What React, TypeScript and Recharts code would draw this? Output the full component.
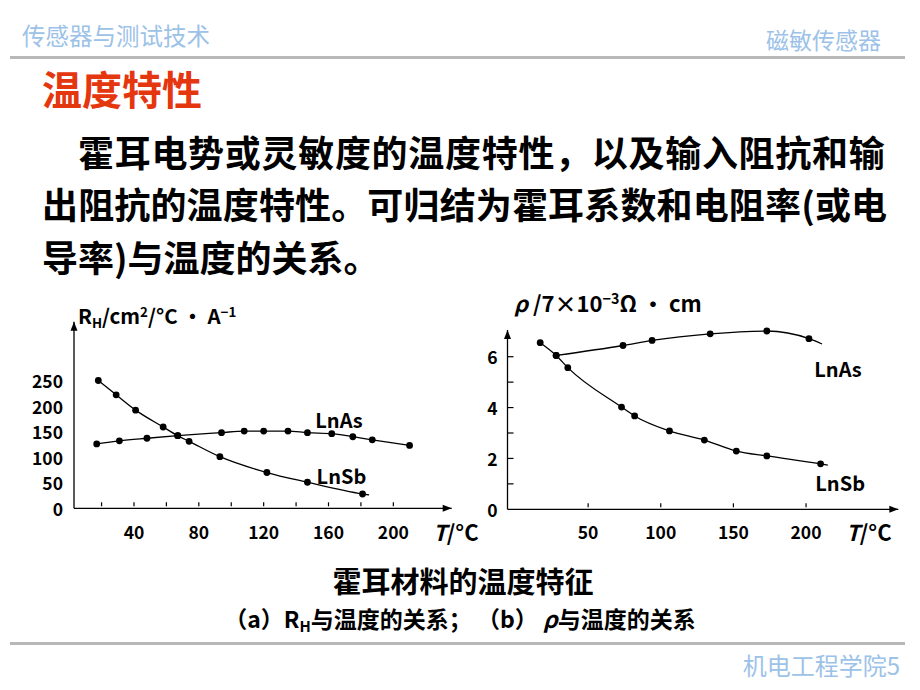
import React from 'react'
import { LineChart, Line, XAxis, YAxis, ReferenceDot } from 'recharts'

// (a) R_H vs T
const sbLeftT = [18, 29, 41, 58, 67, 74, 93, 122, 147, 181, 185]
const sbLeftR = [250, 222, 192, 159, 142, 131, 101, 70, 51, 28, 26]
const sbLeftDot = [1, 1, 1, 1, 1, 1, 1, 1, 1, 1, 0]
const asLeftT = [17, 31, 48, 67, 94, 108, 120, 135, 147, 162, 175, 187, 210]
const asLeftR = [126, 132, 137, 142, 148, 151, 151, 151, 148, 146, 140, 134, 123]
const asLeftDot = [1, 1, 1, 1, 1, 1, 1, 1, 1, 1, 1, 1, 1]

// (b) rho vs T
const sbRightT = [17, 28, 36, 73, 82, 106, 130, 152, 173, 210, 215]
const sbRightRho = [6.55, 6.05, 5.57, 4.02, 3.67, 3.08, 2.72, 2.29, 2.1, 1.79, 1.74]
const sbRightDot = [1, 1, 1, 1, 1, 1, 1, 1, 1, 1, 0]
const asRightT = [28, 74, 94, 134, 173, 202, 211]
const asRightRho = [6.05, 6.44, 6.64, 6.9, 7.01, 6.71, 6.5]
const asRightDot = [1, 1, 1, 1, 1, 1, 0]

const leftXMarks = [20, 40, 60, 80, 100, 120, 140, 160, 180, 200]
const leftXLabels = [40, 80, 120, 160, 200]
const leftYTicks = [0, 50, 100, 150, 200, 250]
const rightXTicks = [50, 100, 150, 200]
const rightYMarks = [0, 1, 2, 3, 4, 5, 6]
const rightYLabels = [0, 2, 4, 6]

const leftDomainX = [3, 236]
const leftDomainY = [0, 365]
const rightDomainX = [-5.5, 263.5]
const rightDomainY = [0, 7.05]

const zip = (t: number[], v: number[], d: number[]) => t.map((x, i) => ({ t: x, v: v[i], dot: d[i] }))

const cjk = '"Noto Sans CJK SC", "Liberation Sans", sans-serif'
const tickFont = { fontFamily: cjk, fontSize: 17.5, fontWeight: 700, fill: '#000' }
const nameFont = { fontFamily: cjk, fontSize: 20, fontWeight: 700, fill: '#000' }

const dotFn = (p: any) =>
  p.payload.dot ? (
    <circle key={p.index} cx={p.cx} cy={p.cy} r={3.4} fill="#000" />
  ) : (
    <g key={p.index} />
  )

const upArrow = (p: any) => (
  <path d={`M${p.cx},${p.cy} L${p.cx - 3.5},${p.cy + 9} L${p.cx + 3.5},${p.cy + 9} Z`} fill="#000" />
)
const rightArrow = (p: any) => (
  <path d={`M${p.cx},${p.cy} L${p.cx - 9},${p.cy - 3.5} L${p.cx - 9},${p.cy + 3.5} Z`} fill="#000" />
)
const seriesLabel = (txt: string) => (p: any) => (
  <text x={p.cx} y={p.cy} textAnchor="middle" dominantBaseline="central" {...nameFont}>
    {txt}
  </text>
)

const LeftXTick = (props: any) => {
  const { x, y, payload } = props
  return (
    <g>
      <line x1={x} x2={x} y1={y - 6} y2={y - 2} stroke="#000" strokeWidth={1.2} />
      {leftXLabels.includes(payload.value) && (
        <text x={x} y={y + 23} textAnchor="middle" dominantBaseline="central" {...tickFont}>
          {payload.value}
        </text>
      )}
    </g>
  )
}

const LeftYTick = (props: any) => {
  const { x, y, payload } = props
  return (
    <text x={x - 11} y={y} textAnchor="end" dominantBaseline="central" {...tickFont}>
      {payload.value}
    </text>
  )
}

const RightXTick = (props: any) => {
  const { x, y, payload } = props
  return (
    <g>
      <line x1={x} x2={x} y1={y - 6} y2={y - 2} stroke="#000" strokeWidth={1.2} />
      <text x={x} y={y + 22} textAnchor="middle" dominantBaseline="central" {...tickFont}>
        {payload.value}
      </text>
    </g>
  )
}

const RightYTick = (props: any) => {
  const { x, y, payload } = props
  return (
    <g>
      {payload.value !== 0 && <line x1={x} x2={x + 6} y1={y} y2={y} stroke="#000" strokeWidth={1.2} />}
      {rightYLabels.includes(payload.value) && (
        <text x={x - 10} y={y} textAnchor="end" dominantBaseline="central" {...tickFont}>
          {payload.value}
        </text>
      )}
    </g>
  )
}

const abs = (left: number, top: number, extra: React.CSSProperties = {}): React.CSSProperties => ({
  position: 'absolute',
  left,
  top,
  whiteSpace: 'nowrap',
  lineHeight: 1,
  ...extra,
})

const sup: React.CSSProperties = { fontSize: '0.65em', position: 'relative', top: '-0.55em' }
const sub: React.CSSProperties = { fontSize: '0.65em', position: 'relative', top: '0.3em' }

export default function App() {
  const lineProps = { type: 'monotone' as const, dataKey: 'v', stroke: '#000', strokeWidth: 1.3, isAnimationActive: false, dot: dotFn, activeDot: false as const }
  const body: React.CSSProperties = { fontSize: 36, fontWeight: 700, color: '#000' }
  return (
    <div style={{ position: 'absolute', left: 0, top: 0, width: 920, height: 690, background: '#fff', overflow: 'hidden', fontFamily: cjk }}>
      <div style={abs(22, 24, { fontSize: 23.5, color: '#9cc2e8' })}>传感器与测试技术</div>
      <div style={abs(0, 28, { width: 881, textAlign: 'right', fontSize: 23, color: '#9cc2e8' })}>磁敏传感器</div>
      <div style={{ position: 'absolute', left: 10, top: 56, width: 895, height: 3, background: '#b8b8b8' }} />
      <div style={abs(42, 68, { fontSize: 40, fontWeight: 700, color: '#e5370f' })}>温度特性</div>

      <div style={abs(78, 133, { ...body, letterSpacing: 0.7 })}>霍耳电势或灵敏度的温度特性，以及输入阻抗和输</div>
      <div style={abs(42, 185, { ...body, letterSpacing: 0.15 })}>出阻抗的温度特性。可归结为霍耳系数和电阻率(或电</div>
      <div style={abs(42, 238, body)}>导率)与温度的关系。</div>

      <div style={abs(78, 305, { fontSize: 20.5, fontWeight: 700 })}>
        R<span style={sub}>H</span>/cm<span style={sup}>2</span>/°C · A<span style={sup}>−1</span>
      </div>
      <div style={abs(514, 291, { fontSize: 22, fontWeight: 700 })}>
        <i>ρ</i> /7×10<span style={sup}>−3</span>Ω · cm
      </div>
      <div style={abs(433, 520, { fontSize: 22, fontWeight: 700 })}>
        <i>T</i>/°C
      </div>
      <div style={abs(846, 520, { fontSize: 22, fontWeight: 700 })}>
        <i>T</i>/°C
      </div>

      <div style={{ position: 'absolute', left: 0, top: 300 }}>
        <LineChart width={470} height={260} margin={{ top: 21.7, right: 18.3, left: 0, bottom: 0 }}>
          <XAxis
            type="number"
            dataKey="t"
            domain={leftDomainX}
            ticks={leftXMarks}
            interval={0}
            height={51.7}
            tickSize={0}
            tickMargin={0}
            tick={<LeftXTick />}
            axisLine={{ stroke: '#000', strokeWidth: 1.3 }}
          />
          <YAxis
            type="number"
            domain={leftDomainY}
            ticks={leftYTicks}
            interval={0}
            width={74}
            tickSize={0}
            tickMargin={0}
            tick={<LeftYTick />}
            axisLine={{ stroke: '#000', strokeWidth: 1.3 }}
          />
          <Line {...lineProps} data={zip(sbLeftT, sbLeftR, sbLeftDot)} />
          <Line {...lineProps} data={zip(asLeftT, asLeftR, asLeftDot)} />
          <ReferenceDot x={leftDomainX[0]} y={leftDomainY[1]} ifOverflow="visible" shape={upArrow} />
          <ReferenceDot x={leftDomainX[1]} y={leftDomainY[0]} ifOverflow="visible" shape={rightArrow} />
          <ReferenceDot x={166.5} y={173} ifOverflow="visible" shape={seriesLabel('LnAs')} />
          <ReferenceDot x={168} y={65} ifOverflow="visible" shape={seriesLabel('LnSb')} />
        </LineChart>
      </div>

      <div style={{ position: 'absolute', left: 460, top: 300 }}>
        <LineChart width={450} height={260} margin={{ top: 30, right: 11.7, left: 0, bottom: 0 }}>
          <XAxis
            type="number"
            dataKey="t"
            domain={rightDomainX}
            ticks={rightXTicks}
            interval={0}
            height={50.7}
            tickSize={0}
            tickMargin={0}
            tick={<RightXTick />}
            axisLine={{ stroke: '#000', strokeWidth: 1.3 }}
          />
          <YAxis
            type="number"
            domain={rightDomainY}
            ticks={rightYMarks}
            interval={0}
            width={47.5}
            tickSize={0}
            tickMargin={0}
            tick={<RightYTick />}
            axisLine={{ stroke: '#000', strokeWidth: 1.3 }}
          />
          <Line {...lineProps} data={zip(sbRightT, sbRightRho, sbRightDot)} />
          <Line {...lineProps} data={zip(asRightT, asRightRho, asRightDot)} />
          <ReferenceDot x={rightDomainX[0]} y={rightDomainY[1]} ifOverflow="visible" shape={upArrow} />
          <ReferenceDot x={rightDomainX[1]} y={rightDomainY[0]} ifOverflow="visible" shape={rightArrow} />
          <ReferenceDot x={222} y={5.52} ifOverflow="visible" shape={seriesLabel('LnAs')} />
          <ReferenceDot x={223.5} y={1.07} ifOverflow="visible" shape={seriesLabel('LnSb')} />
        </LineChart>
      </div>

      <div style={abs(0, 566, { width: 926, textAlign: 'center', fontSize: 29, fontWeight: 700 })}>霍耳材料的温度特征</div>
      <div style={abs(0, 607, { width: 920, textAlign: 'center', fontSize: 23, fontWeight: 700 })}>
        （a）R<span style={sub}>H</span>与温度的关系； （b） <i>ρ</i>与温度的关系
      </div>
      <div style={{ position: 'absolute', left: 10, top: 642, width: 895, height: 3, background: '#b8b8b8' }} />
      <div style={abs(0, 653, { width: 900, textAlign: 'right', fontSize: 24, color: '#9cc2e8' })}>机电工程学院5</div>
    </div>
  )
}
